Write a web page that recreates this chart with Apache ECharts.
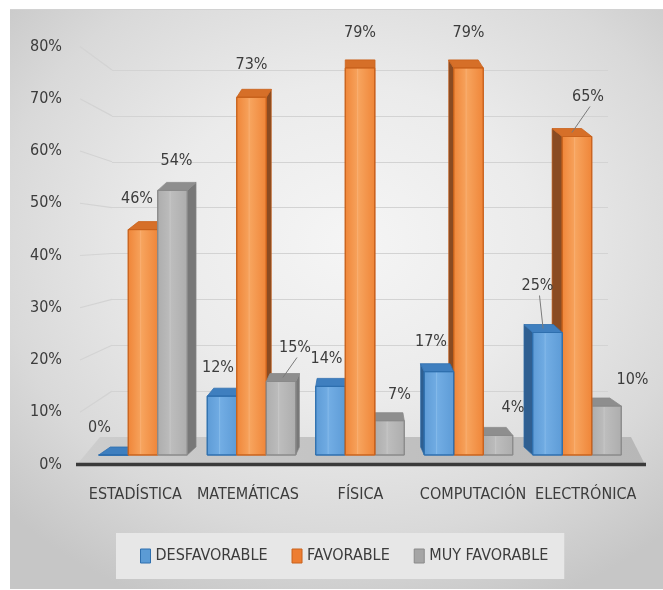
<!DOCTYPE html>
<html>
<head>
<meta charset="utf-8">
<script src="https://cdn.jsdelivr.net/npm/echarts@6/dist/echarts.min.js"></script>
<style>
  html, body { margin: 0; padding: 0; background: #ffffff; }
  #wrap { position: relative; width: 663px; height: 590px; overflow: hidden; }
  #panel {
    position: absolute; left: 10px; top: 9px; width: 653px; height: 579px;
    background: radial-gradient(ellipse 72% 68% at 52% 40%, #f5f5f5 0%, #ebebeb 40%, #d9d9d9 75%, #c6c6c6 100%);
    border-top: 1px solid #d2d2d2;
  }
  #chart { position: absolute; left: 0; top: 0; width: 663px; height: 590px; }
</style>
</head>
<body>
<div id="wrap"><div id="panel"></div><div id="chart"></div></div>
<script>
// Survey results per subject area
const categories = ['ESTADÍSTICA', 'MATEMÁTICAS', 'FÍSICA', 'COMPUTACIÓN', 'ELECTRÓNICA'];
const seriesNames = ['DESFAVORABLE', 'FAVORABLE', 'MUY FAVORABLE'];
const desfavorable = [0, 12, 14, 17, 25];
const favorable = [46, 73, 79, 79, 65];
const muyFavorable = [54, 15, 7, 4, 10];
const yTicks = [0, 10, 20, 30, 40, 50, 60, 70, 80];

// Where each value label sits relative to the top of its bar
const labelShift = [
  [[-14, -27], [-4, -28], [-4, -28], [-8, -30], [-10, -47]],
  [[-6, -31], [0, -32], [0, -35], [0, -35], [11, -40]],
  [[4, -30], [14, -34], [10, -26], [15, -28], [26, -26]]
];
// Labels that are joined to their bar by a short leader line
const leaderLines = [
  [false, false, false, false, true],
  [false, false, false, false, true],
  [false, true, false, false, false]
];

const FONT = '"DejaVu Sans Condensed", "Liberation Sans Narrow", sans-serif';
const FONT_SIZE = 16;
const TEXT = '#3c3c3c';

// Face colours for the prism bars: front gradient, side, top, outline
const palette = [
  { legend: '#5b9bd5', f0: '#5d9bd6', f1: '#72ade4', side: '#2f5f91', top: '#3f7fbf', edge: '#2e6fae', inner: '#8fc0ec' },
  { legend: '#ed7d31', f0: '#ef8538', f1: '#f7a45e', side: '#8a4b22', top: '#d66f28', edge: '#c9621c', inner: '#f9b47a' },
  { legend: '#a5a5a5', f0: '#adadad', f1: '#bdbdbd', side: '#787878', top: '#8e8e8e', edge: '#8a8a8a', inner: '#cacaca' }
];

const chart = echarts.init(document.getElementById('chart'), null, { renderer: 'canvas' });

function prismRenderer(sIdx) {
  const c = palette[sIdx];
  return function (params, api) {
    const ci = api.value(0);
    const v = api.value(1);
    const base = api.coord([ci, 0]);
    const top = api.coord([ci, v]);
    const band = api.size([1, 0])[0];
    const bw = band * 0.272;
    const cx = base[0] + (sIdx - 1) * bw;
    const x0 = cx - bw / 2, x1 = cx + bw / 2;
    const yT = top[1], yB = base[1];
    const mid = (api.coord([0, 0])[0] + api.coord([categories.length - 1, 0])[0]) / 2;
    const dx = -(cx - mid) * 0.047;
    const dy = 8;
    const leftOfMid = cx < mid;
    const order = leftOfMid ? sIdx : (2 - sIdx);
    const zBase = ci * 20 + order * 5;
    const sx = dx >= 0 ? x1 : x0;

    const children = [
      {
        type: 'polygon', z2: zBase,
        shape: { points: [[sx, yT], [sx + dx, yT - dy], [sx + dx, yB - dy], [sx, yB]] },
        style: { fill: c.side, stroke: c.edge, lineWidth: 0.6 }
      },
      {
        type: 'polygon', z2: zBase + 1,
        shape: { points: [[x0, yT], [x1, yT], [x1 + dx, yT - dy], [x0 + dx, yT - dy]] },
        style: { fill: c.top, stroke: c.edge, lineWidth: 0.8 }
      },
      {
        type: 'rect', z2: zBase + 2,
        shape: { x: x0, y: yT, width: bw, height: yB - yT },
        style: {
          fill: new echarts.graphic.LinearGradient(0, 0, 1, 0, [
            { offset: 0, color: c.f0 }, { offset: 0.45, color: c.f1 }, { offset: 1, color: c.f0 }
          ]),
          stroke: c.edge, lineWidth: 1
        }
      }
    ];
    if (yB - yT > 4) {
      children.push({
        type: 'line', z2: zBase + 3,
        shape: { x1: x0 + bw * 0.42, y1: yT + 1, x2: x0 + bw * 0.42, y2: yB - 1 },
        style: { stroke: c.inner, lineWidth: 1, opacity: 0.7 }
      });
    }
    const sh = labelShift[sIdx][ci];
    const lx = cx + sh[0], ly = yT + sh[1];
    children.push({
      type: 'text', z2: 1000,
      style: {
        text: v + '%', x: lx, y: ly, align: 'center', verticalAlign: 'middle',
        fontSize: FONT_SIZE, fontFamily: FONT, fill: TEXT
      }
    });
    if (leaderLines[sIdx][ci]) {
      children.push({
        type: 'line', z2: 999,
        shape: { x1: lx + 2, y1: ly + 10, x2: cx + dx / 2, y2: yT - dy / 2 },
        style: { stroke: '#7a7a7a', lineWidth: 1 }
      });
    }
    return { type: 'group', children: children };
  };
}

const seriesValues = [desfavorable, favorable, muyFavorable];
const yMin = yTicks[0], yMax = yTicks[yTicks.length - 1], yStep = yTicks[1] - yTicks[0];

const option = {
  animation: false,
  backgroundColor: 'transparent',
  grid: [
    { left: 79, right: 21, top: 46.5, bottom: 125.5 },   // front plane: axis labels
    { left: 112, right: 55, top: 70, bottom: 153 },       // back wall: gridlines
    { left: 88.75, right: 31.75, top: 63, bottom: 135 }   // bar plane
  ],
  xAxis: [
    {
      gridIndex: 0, type: 'category', data: categories,
      axisLine: { show: false }, axisTick: { show: false },
      axisLabel: { interval: 0, margin: 22, fontSize: FONT_SIZE, fontFamily: FONT, color: TEXT }
    },
    { gridIndex: 1, type: 'category', data: categories, show: false },
    { gridIndex: 2, type: 'category', data: categories, show: false }
  ],
  yAxis: [
    {
      gridIndex: 0, type: 'value', min: yMin, max: yMax, interval: yStep,
      axisLine: { show: false }, axisTick: { show: false }, splitLine: { show: false },
      axisLabel: { formatter: '{value}%', margin: 17, fontSize: FONT_SIZE, fontFamily: FONT, color: TEXT }
    },
    {
      gridIndex: 1, type: 'value', min: yMin, max: yMax, interval: yStep,
      axisLine: { show: false }, axisTick: { show: false }, axisLabel: { show: false },
      splitLine: { show: true, lineStyle: { color: '#d3d3d3', width: 1.2 } }
    },
    { gridIndex: 2, type: 'value', min: yMin, max: yMax, interval: yStep, show: false }
  ],
  legend: {
    left: 116, top: 533,
    padding: [15, 16, 15, 24],
    itemGap: 24, itemWidth: 10, itemHeight: 14, icon: 'rect',
    backgroundColor: '#e7e7e7',
    textStyle: { fontSize: FONT_SIZE, fontFamily: FONT, color: TEXT },
    data: seriesNames.map((n, i) => ({
      name: n, itemStyle: { color: palette[i].legend, borderColor: palette[i].edge, borderWidth: 1 }
    }))
  },
  series: seriesNames.map((name, i) => ({
    name: name,
    type: 'custom',
    xAxisIndex: 2, yAxisIndex: 2,
    itemStyle: { color: palette[i].legend },
    renderItem: prismRenderer(i),
    data: seriesValues[i].map((v, ci) => [ci, v])
  }))
};

chart.setOption(option);

// Side-wall gridlines and the floor, placed from the axes' own pixel mapping
const yFront = v => chart.convertToPixel({ yAxisIndex: 0 }, v);
const yBack = v => chart.convertToPixel({ yAxisIndex: 1 }, v);
const wallLines = yTicks.filter(v => v > 0).map(v => ({
  type: 'line', z: 0,
  shape: { x1: 80, y1: yFront(v), x2: 112, y2: yBack(v) },
  style: { stroke: '#d3d3d3', lineWidth: 1.2 }
}));
const f0 = yFront(0), b0 = yBack(0);
chart.setOption({
  graphic: wallLines.concat([
    {
      type: 'polygon', z: 1,
      shape: { points: [[77, f0], [645, f0], [631, b0], [100, b0]] },
      style: {
        fill: new echarts.graphic.LinearGradient(0, 0, 1, 0, [
          { offset: 0, color: '#cdcdcd' }, { offset: 1, color: '#b7b7b7' }
        ])
      }
    },
    {
      type: 'line', z: 3,
      shape: { x1: 76, y1: f0, x2: 646, y2: f0 },
      style: { stroke: '#3a3a3a', lineWidth: 3.5 }
    }
  ])
});
</script>
</body>
</html>
